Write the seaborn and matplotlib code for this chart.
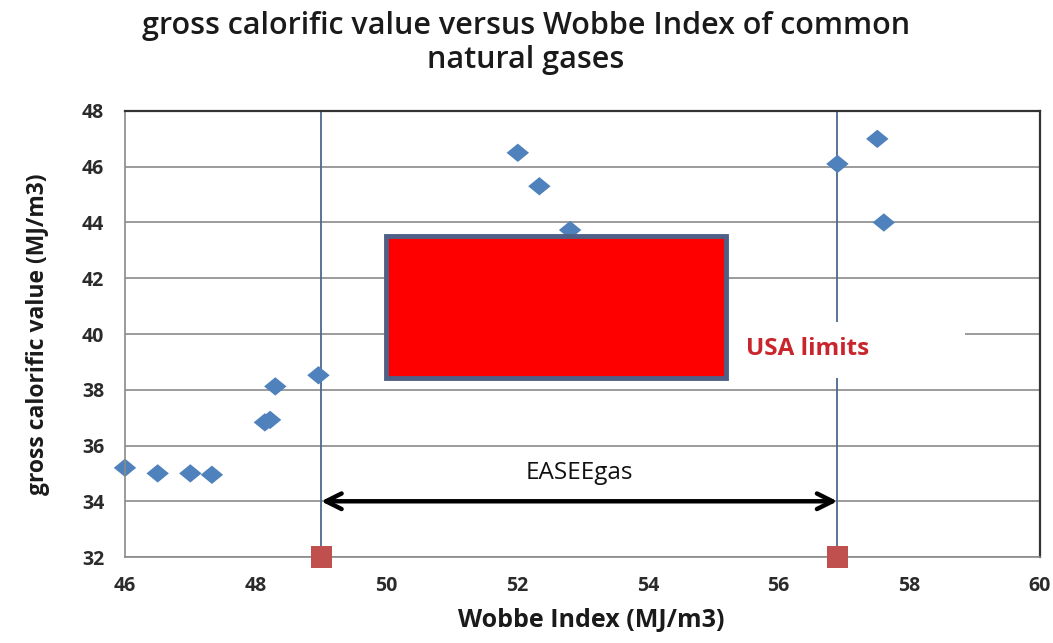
import matplotlib
matplotlib.use("Agg")
import matplotlib.pyplot as plt
import seaborn as sns
import pandas as pd
from matplotlib.patches import Rectangle

# ---- data ----
wobbe = [46.0, 46.5, 47.0, 47.33, 48.14, 48.22, 48.3, 48.96, 52.01, 52.34, 52.81, 56.9, 57.51, 57.61]
gcv = [35.2, 35.0, 35.0, 34.95, 36.83, 36.92, 38.12, 38.52, 46.5, 45.3, 43.73, 46.1, 47.0, 44.0]
easee_limits = [49.0, 56.9]
easee_base = [32.0, 32.0]
easee_arrow_y = 34.0
usa_wobbe = [50.0, 55.2]
usa_gcv = [38.43, 43.52]
x_ticks = [46, 48, 50, 52, 54, 56, 58, 60]
y_ticks = [32, 34, 36, 38, 40, 42, 44, 46, 48]

df = pd.DataFrame({"wobbe": wobbe, "gcv": gcv})
lim_df = pd.DataFrame({"wobbe": easee_limits, "gcv": easee_base})

sns.set_theme(style="white")
plt.rcParams["font.family"] = ["Open Sans", "DejaVu Sans"]

fig = plt.figure(figsize=(10.53, 6.43), dpi=100)
ax = fig.add_axes([0.1187, 0.1337, 0.869, 0.6937])

ax.set_xlim(x_ticks[0], x_ticks[-1])
ax.set_ylim(y_ticks[0], y_ticks[-1])
ax.set_xticks(x_ticks)
ax.set_yticks(y_ticks)
ax.yaxis.grid(True, color="#8a8a8a", lw=1.2, zorder=0)
ax.set_axisbelow(True)

# vertical EASEEgas limit lines
for xv in easee_limits:
    ax.axvline(xv, color="#4a6a8f", lw=1.3, zorder=1)

# USA limits box
ax.add_patch(Rectangle((usa_wobbe[0], usa_gcv[0]), usa_wobbe[1] - usa_wobbe[0],
                       usa_gcv[1] - usa_gcv[0], facecolor="#ff0000",
                       edgecolor="#4f5f86", lw=3.5, zorder=3))
# white label background of the "USA limits" callout
ax.add_patch(Rectangle((usa_wobbe[1], usa_gcv[0]), 3.65, 2.0,
                       facecolor="white", edgecolor="none", zorder=2.5))

diamond = [(-1, 0), (0, 0.82), (1, 0), (0, -0.82), (-1, 0)]
sns.scatterplot(data=df, x="wobbe", y="gcv", marker=diamond, s=260,
                color="#4f81bd", edgecolor="none", ax=ax, zorder=2, clip_on=False)
sns.scatterplot(data=lim_df, x="wobbe", y="gcv", marker="s", s=230,
                color="#c0504d", edgecolor="none", ax=ax, zorder=4, clip_on=False)

# arrow
ax.annotate("", xy=(easee_limits[0], easee_arrow_y), xytext=(easee_limits[1], easee_arrow_y),
            arrowprops=dict(arrowstyle="<->", color="black", lw=3.2,
                            mutation_scale=28, shrinkA=0, shrinkB=0), zorder=5)
ax.text(sum(easee_limits) / 2, 35.0, "EASEEgas", ha="center", va="center",
        fontsize=17.5, color="#111111")

ax.text(55.5, 39.45, "USA limits", ha="left", va="center", fontsize=17.5,
        fontweight="bold", color="#c8262c", zorder=4)

for side in ["left", "bottom"]:
    ax.spines[side].set_color("#8a8a8a")
    ax.spines[side].set_linewidth(1.2)
for side in ["top", "right"]:
    ax.spines[side].set_color("#333333")
    ax.spines[side].set_linewidth(1.6)

ax.tick_params(axis="x", direction="inout", length=10, width=1, color="#8a8a8a",
               labelsize=14, pad=9)
ax.tick_params(axis="y", direction="inout", length=10, width=1, color="#8a8a8a",
               labelsize=14, pad=10)
for lab in ax.get_xticklabels() + ax.get_yticklabels():
    lab.set_fontweight("bold")
    lab.set_color("#2b2b2b")

ax.set_xlabel("Wobbe Index (MJ/m3)", fontsize=18, fontweight="bold", color="#1a1a1a")
ax.set_ylabel("gross calorific value (MJ/m3)", fontsize=16.5, fontweight="bold", color="#1a1a1a")
ax.xaxis.set_label_coords(0.509, -0.115)
ax.yaxis.set_label_coords(-0.082, 0.5)

fig.text(0.4995, 0.933, "gross calorific value versus Wobbe Index of common\nnatural gases",
         ha="center", va="center", fontsize=22, fontweight="semibold", color="#1a1a1a",
         linespacing=1.15)

fig.savefig("out.png", dpi=100, facecolor="white")
